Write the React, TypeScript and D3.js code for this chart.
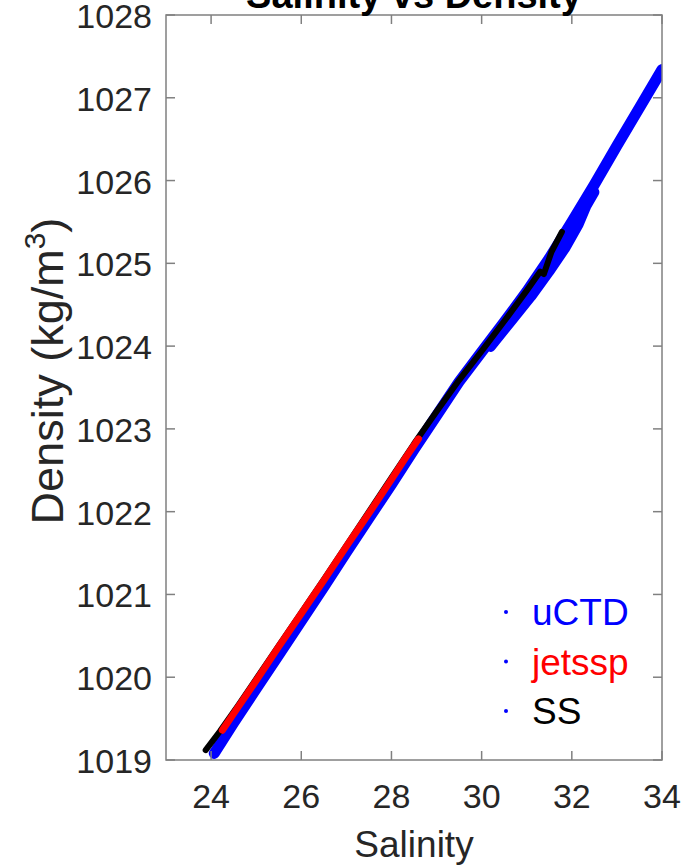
import * as d3 from "d3";

// uCTD (blue) main cloud trace
const uctdSal = [24.07, 24.5, 25.0, 25.5, 26.0, 26.5, 27.0, 27.5, 28.0, 28.5, 29.0, 29.5, 30.0, 30.5, 31.0, 31.5, 32.0, 32.5, 33.0, 33.5, 34.0];
const uctdDen = [1019.08, 1019.45, 1019.86, 1020.27, 1020.68, 1021.09, 1021.51, 1021.92, 1022.33, 1022.75, 1023.16, 1023.57, 1023.93, 1024.29, 1024.66, 1025.06, 1025.5, 1025.95, 1026.42, 1026.88, 1027.34];
// uCTD lower spread of the cloud
const uctdLowSal = [30.2, 30.7, 31.1, 31.5, 31.85, 32.15, 32.33, 32.5];
const uctdLowDen = [1023.99, 1024.33, 1024.6, 1024.9, 1025.18, 1025.47, 1025.7, 1025.86];

// SS (black)
const ssSal = [23.88, 24.2, 24.6, 25.0, 25.5, 26.0, 26.5, 27.0, 27.5, 28.0, 28.5, 29.0, 29.5, 30.0, 30.5, 31.0, 31.3, 31.38, 31.55, 31.78];
const ssDen = [1019.12, 1019.35, 1019.66, 1019.98, 1020.38, 1020.78, 1021.18, 1021.59, 1022.0, 1022.41, 1022.82, 1023.21, 1023.59, 1023.94, 1024.3, 1024.67, 1024.9, 1024.87, 1025.14, 1025.38];

// jetssp (red)
const jetSal = [24.25, 24.5, 25.0, 25.5, 26.0, 26.5, 27.0, 27.5, 28.0, 28.3, 28.6];
const jetDen = [1019.36, 1019.56, 1019.96, 1020.37, 1020.77, 1021.17, 1021.58, 1021.98, 1022.39, 1022.64, 1022.88];

const xTicks = [24, 26, 28, 30, 32, 34];
const yTicks = [1019, 1020, 1021, 1022, 1023, 1024, 1025, 1026, 1027, 1028];

const legendNames = ["uCTD", "jetssp", "SS"];
const legendColors = ["#0000ff", "#ff0000", "#000000"];

const W = 687;
const H = 868;
const left = 166;
const right = 662;
const top = 15;
const bottom = 760;
const FONT = "'Liberation Sans', Arial, Helvetica, sans-serif";
const AXIS = "#808080";
const TEXT = "#262626";

export default function App() {
  const x = d3.scaleLinear().domain([23, 34]).range([left, right]);
  const y = d3.scaleLinear().domain([1019, 1028]).range([bottom, top]);

  const line = d3
    .line<[number, number]>()
    .x((d) => x(d[0]))
    .y((d) => y(d[1]));

  const zip = (a: number[], b: number[]) => a.map((v, i) => [v, b[i]] as [number, number]);

  const uctd = zip(uctdSal, uctdDen);
  const uctdLow = zip(uctdLowSal, uctdLowDen);
  const ss = zip(ssSal, ssDen);
  const jet = zip(jetSal, jetDen);

  const tickLen = 9;

  return (
    <svg
      width={W}
      height={H}
      style={{ position: "absolute", left: 0, top: 0, background: "#fff" }}
      fontFamily={FONT}
    >
      <defs>
        <clipPath id="plot">
          <rect x={left} y={top} width={right - left} height={bottom - top} />
        </clipPath>
      </defs>

      {/* data */}
      <g clipPath="url(#plot)" fill="none" strokeLinecap="round" strokeLinejoin="round">
        <path d={line(uctd)!} stroke="#0000ff" strokeWidth={11} />
        <path d={line(uctdLow)!} stroke="#0000ff" strokeWidth={10} />
        <path d={line(ss)!} stroke="#000000" strokeWidth={6} />
        <path d={line(jet)!} stroke="#ff0000" strokeWidth={7} />
      </g>

      {/* box */}
      <rect
        x={left}
        y={top}
        width={right - left}
        height={bottom - top}
        fill="none"
        stroke={AXIS}
        strokeWidth={1.5}
      />

      {/* x ticks */}
      {xTicks.map((t) => (
        <g key={"x" + t}>
          <line x1={x(t)} x2={x(t)} y1={bottom} y2={bottom - tickLen} stroke={AXIS} strokeWidth={1.5} />
          <line x1={x(t)} x2={x(t)} y1={top} y2={top + tickLen} stroke={AXIS} strokeWidth={1.5} />
          <text x={x(t)} y={808} textAnchor="middle" fontSize={34} fill={TEXT}>
            {t}
          </text>
        </g>
      ))}

      {/* y ticks */}
      {yTicks.map((t) => (
        <g key={"y" + t}>
          <line x1={left} x2={left + tickLen} y1={y(t)} y2={y(t)} stroke={AXIS} strokeWidth={1.5} />
          <line x1={right} x2={right - tickLen} y1={y(t)} y2={y(t)} stroke={AXIS} strokeWidth={1.5} />
          <text x={152} y={y(t) + 13} textAnchor="end" fontSize={34} fill={TEXT}>
            {t}
          </text>
        </g>
      ))}

      {/* title */}
      <text x={(left + right) / 2} y={8} textAnchor="middle" fontSize={38} fontWeight="bold" fill="#000">
        Salinity vs Density
      </text>

      {/* axis labels */}
      <text x={(left + right) / 2} y={857} textAnchor="middle" fontSize={37} fill={TEXT}>
        Salinity
      </text>
      <text
        transform="translate(63, 371) rotate(-90)"
        textAnchor="middle"
        fontSize={45}
        fill={TEXT}
      >
        Density (kg/m
        <tspan fontSize={30} dy={-18}>
          3
        </tspan>
        <tspan dy={18}>)</tspan>
      </text>

      {/* legend */}
      {legendNames.map((n, i) => (
        <g key={n}>
          <circle cx={506} cy={612 + i * 49.5} r={2} fill="#0000ff" />
          <text x={532} y={612 + i * 49.5 + 13} fontSize={37} fill={legendColors[i]}>
            {n}
          </text>
        </g>
      ))}
    </svg>
  );
}
